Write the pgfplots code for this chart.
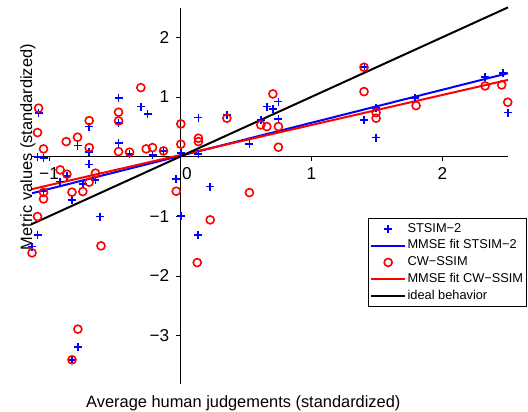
\documentclass[border=0pt]{standalone}
\usepackage{fontspec}
\setmainfont{Liberation Sans}
\usepackage{pgfplots}
\pgfplotsset{compat=1.18}
\usepackage{pgfplotstable}
\usetikzlibrary{calc}

% STSIM-2 scores
\pgfplotstableread{
x y
-1.080 0.727
-1.088 -0.005
-1.042 -0.027
-0.783 0.184
-0.694 0.503
-0.694 0.074
-0.694 -0.131
-0.470 0.978
-0.470 0.559
-0.470 0.224
-0.386 0.045
-0.300 0.838
-0.249 0.710
-0.211 0.028
-0.127 0.095
0.005 0.057
-0.864 -0.323
-0.915 -0.419
-0.646 -0.390
-0.742 -0.462
-0.825 -0.725
-1.042 -0.586
-1.088 -1.312
-1.130 -1.508
-0.610 -1.005
-0.030 -0.374
0.005 -0.993
-0.780 -3.193
-0.825 -3.405
0.139 0.653
0.139 0.045
0.356 0.698
0.528 0.208
0.615 0.615
0.661 0.838
0.707 0.794
0.749 0.921
0.749 0.626
0.229 -0.503
0.137 -1.312
1.405 1.497
1.402 0.615
1.494 0.811
1.494 0.318
1.791 0.978
2.325 1.330
2.460 1.397
2.498 0.737
}\stsim

% CW-SSIM scores
\pgfplotstableread{
x y
-1.080 0.811
-1.088 0.402
-1.042 0.129
-0.869 0.251
-0.783 0.325
-0.694 0.603
-0.694 0.151
-0.470 0.744
-0.470 0.598
-0.470 0.084
-0.300 1.156
-0.386 0.074
-0.259 0.129
-0.211 0.151
-0.127 0.095
0.005 0.548
0.005 0.208
-0.915 -0.223
-0.864 -0.295
-0.646 -0.278
-0.694 -0.429
-0.742 -0.586
-0.825 -0.596
-1.042 -0.600
-1.042 -0.709
-1.088 -1.005
-1.130 -1.613
-0.604 -1.496
-0.030 -0.580
-0.780 -2.891
-0.825 -3.405
0.139 0.308
0.139 0.251
0.356 0.643
0.615 0.531
0.661 0.503
0.707 1.050
0.749 0.503
0.749 0.157
0.528 -0.603
0.229 -1.060
0.130 -1.776
1.402 1.497
1.402 1.089
1.494 0.737
1.494 0.643
1.799 0.854
2.325 1.184
2.452 1.201
2.498 0.911
}\cwssim

\begin{document}
\begin{tikzpicture}
\begin{axis}[
  scale only axis, width=238pt, height=188pt,
  axis lines=middle, axis line style={-, line width=0.5pt},
  xmin=-1.13, xmax=2.5, ymin=-3.81, ymax=2.49,
  xtick={-1,0,1,2},
  xticklabels={−1,\makebox[0pt][l]{\hspace{1pt}0},1,2},
  ytick={-3,-2,-1,1,2},
  yticklabels={−3,−2,−1,1,2},
  hide obscured x ticks=false,
  tick align=outside, major tick length=2pt,
  tick style={black, line width=0.4pt},
  ticklabel style={font=\fontsize{8.6}{10}\selectfont},
  clip=false,
  legend cell align=left,
  legend style={at={(rel axis cs:1.04,0.441)}, anchor=north east,
    draw=black, line width=0.5pt, fill=white,
    font=\fontsize{6.4}{7.6}\selectfont,
    inner xsep=1pt, inner ysep=1.5pt, row sep=0.9pt,
    nodes={inner sep=0.7pt}},
  legend image code/.code={\draw[mark repeat=2,mark phase=2,#1]
    plot coordinates {(0pt,0pt) (8.5pt,0pt) (17pt,0pt)};},
]
\addplot[only marks, mark=+, blue, mark size=2pt, line width=0.8pt] table {\stsim};
\addlegendentry{STSIM−2}
\addplot[blue, line width=1pt] coordinates {(-1.13,-0.614) (2.5,1.397)};
\addlegendentry{MMSE fit STSIM−2}
\addplot[only marks, mark=o, red, mark size=2pt, line width=0.8pt] table {\cwssim};
\addlegendentry{CW−SSIM}
\addplot[red, line width=1pt] coordinates {(-1.13,-0.545) (2.5,1.285)};
\addlegendentry{MMSE fit CW−SSIM}
\addplot[black, line width=1pt] coordinates {(-1.13,-1.13) (2.5,2.5)};
\addlegendentry{ideal behavior}

\node[anchor=base, yshift=-12pt, font=\fontsize{8.2}{10}\selectfont]
  at (rel axis cs:0.444,0) {Average human judgements (standardized)};
\node[anchor=base, rotate=90, xshift=-4.5pt, font=\fontsize{8.2}{10}\selectfont]
  at (rel axis cs:0,0.654) {Metric values (standardized)};

\coordinate (bl) at (rel axis cs:0,0);
\coordinate (tr) at (rel axis cs:1,1);
\end{axis}
\pgfresetboundingbox
\path ($(bl)+(-16pt,-14pt)$) rectangle ($(tr)+(10pt,4pt)$);
\end{tikzpicture}
\end{document}
